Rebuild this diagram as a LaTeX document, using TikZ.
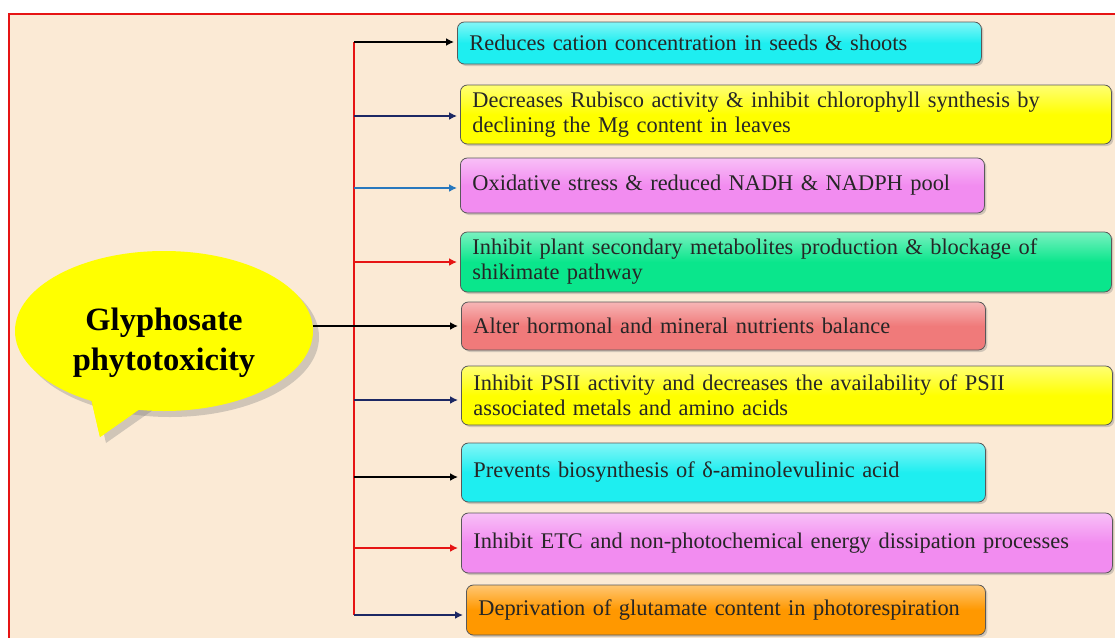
\documentclass[tikz,border=0pt]{standalone}
\usepackage{fontspec}
\setmainfont{Liberation Serif}
\newfontfamily\boxfont{Liberation Serif}[WordSpace=2]
\usepackage{xcolor}
\usepackage{tikz}
\usetikzlibrary{arrows.meta,shapes.geometric,shadows}

\definecolor{paper}{RGB}{251,234,213}
\definecolor{aqua}{RGB}{30,238,240}
\definecolor{lemon}{RGB}{255,255,0}
\definecolor{orchid}{RGB}{242,140,240}
\definecolor{mint}{RGB}{10,230,140}
\definecolor{salmon}{RGB}{240,122,122}
\definecolor{amber}{RGB}{255,152,0}
\definecolor{navy}{RGB}{28,40,100}
\definecolor{steel}{RGB}{40,120,190}
\definecolor{framered}{RGB}{230,20,20}

\tikzset{
  effect/.style={draw=black!65, line width=0.8pt, rounded corners=7pt, anchor=west,
    top color=#1!55!white, bottom color=#1, middle color=#1,
    align=left, inner xsep=11pt, text=black!85,
    font=\boxfont\fontsize{22.4}{25}\selectfont,
    drop shadow={shadow xshift=2pt, shadow yshift=-2pt, opacity=0.35}},
  short/.style={minimum width=524pt, text width=500pt},
  long/.style={minimum width=651pt, text width=627pt},
  link/.style={line width=2.2pt, -{Latex[length=8pt,width=8pt]}, shorten >=3pt},
  bubble/.style={ellipse, fill=lemon, minimum width=298pt, minimum height=160pt,
    align=center, font=\bfseries\fontsize{32.5}{40}\selectfont, inner sep=0pt,
    drop shadow={shadow xshift=6pt, shadow yshift=-6pt, opacity=0.35}}
}

\begin{document}
\begin{tikzpicture}[x=1pt, y=-1pt]
\useasboundingbox (0,0) rectangle (1115,637);
\draw[framered, line width=2pt, fill=paper] (9,14) rectangle (1130,660);

\coordinate (top) at (354,42);
\coordinate (bottom) at (354,615);

\node[effect=aqua, short, minimum height=42pt] (cation) at (457,43) {Reduces cation concentration in seeds \& shoots};
\node[effect=lemon, long, minimum height=59pt] (rubisco) at (460,114.5) {Decreases Rubisco activity \& inhibit chlorophyll synthesis by\\declining the Mg content in leaves};
\node[effect=orchid, short, minimum height=55pt] (nadph) at (460,185.5) {Oxidative stress \& reduced NADH \& NADPH pool};
\node[effect=mint, long, minimum height=60pt] (shikimate) at (460,262) {Inhibit plant secondary metabolites production \& blockage of\\shikimate pathway};
\node[effect=salmon, short, minimum height=48pt] (hormone) at (461,326) {Alter hormonal and mineral nutrients balance};
\node[effect=lemon, long, minimum height=59pt] (psii) at (461,395.5) {Inhibit PSII activity and decreases the availability of PSII\\associated metals and amino acids};
\node[effect=aqua, short, minimum height=59pt] (ala) at (461,472.5) {Prevents biosynthesis of δ-aminolevulinic acid};
\node[effect=orchid, long, minimum height=60pt] (etc) at (461,543) {Inhibit ETC and non-photochemical energy dissipation processes};
\node[effect=amber, short, minimum height=50pt, minimum width=519pt, text width=495pt] (glutamate) at (466,610) {Deprivation of glutamate content in photorespiration};

\coordinate (tipL) at (90,394);
\coordinate (tip) at (100,437);
\coordinate (tipR) at (147,404);
\fill[lemon, drop shadow={shadow xshift=6pt, shadow yshift=-6pt, opacity=0.35}] (tipL) -- (tip) -- (tipR) -- cycle;
\node[bubble] (glyph) at (164,331) {\rule{0pt}{47pt}Glyphosate\\phytotoxicity};
\fill[lemon] (tipL) -- (tip) -- (tipR) -- cycle;

\draw[framered, line width=2.5pt] (top) -- (bottom);
\draw[link, black] (top) -- (cation.west |- top);
\draw[link, navy] (top |- 0,116) -- (rubisco.west |- 0,116);
\draw[link, steel] (top |- 0,188) -- (nadph.west |- 0,188);
\draw[link, framered] (top |- shikimate) -- (shikimate.west);
\draw[link, black] (glyph.east |- hormone) -- (hormone.west);
\draw[link, navy] (top |- 0,400) -- (psii.west |- 0,400);
\draw[link, black] (top |- 0,477) -- (ala.west |- 0,477);
\draw[link, framered] (top |- 0,548) -- (etc.west |- 0,548);
\draw[link, navy] (bottom) -- (glutamate.west |- bottom);
\end{tikzpicture}
\end{document}
